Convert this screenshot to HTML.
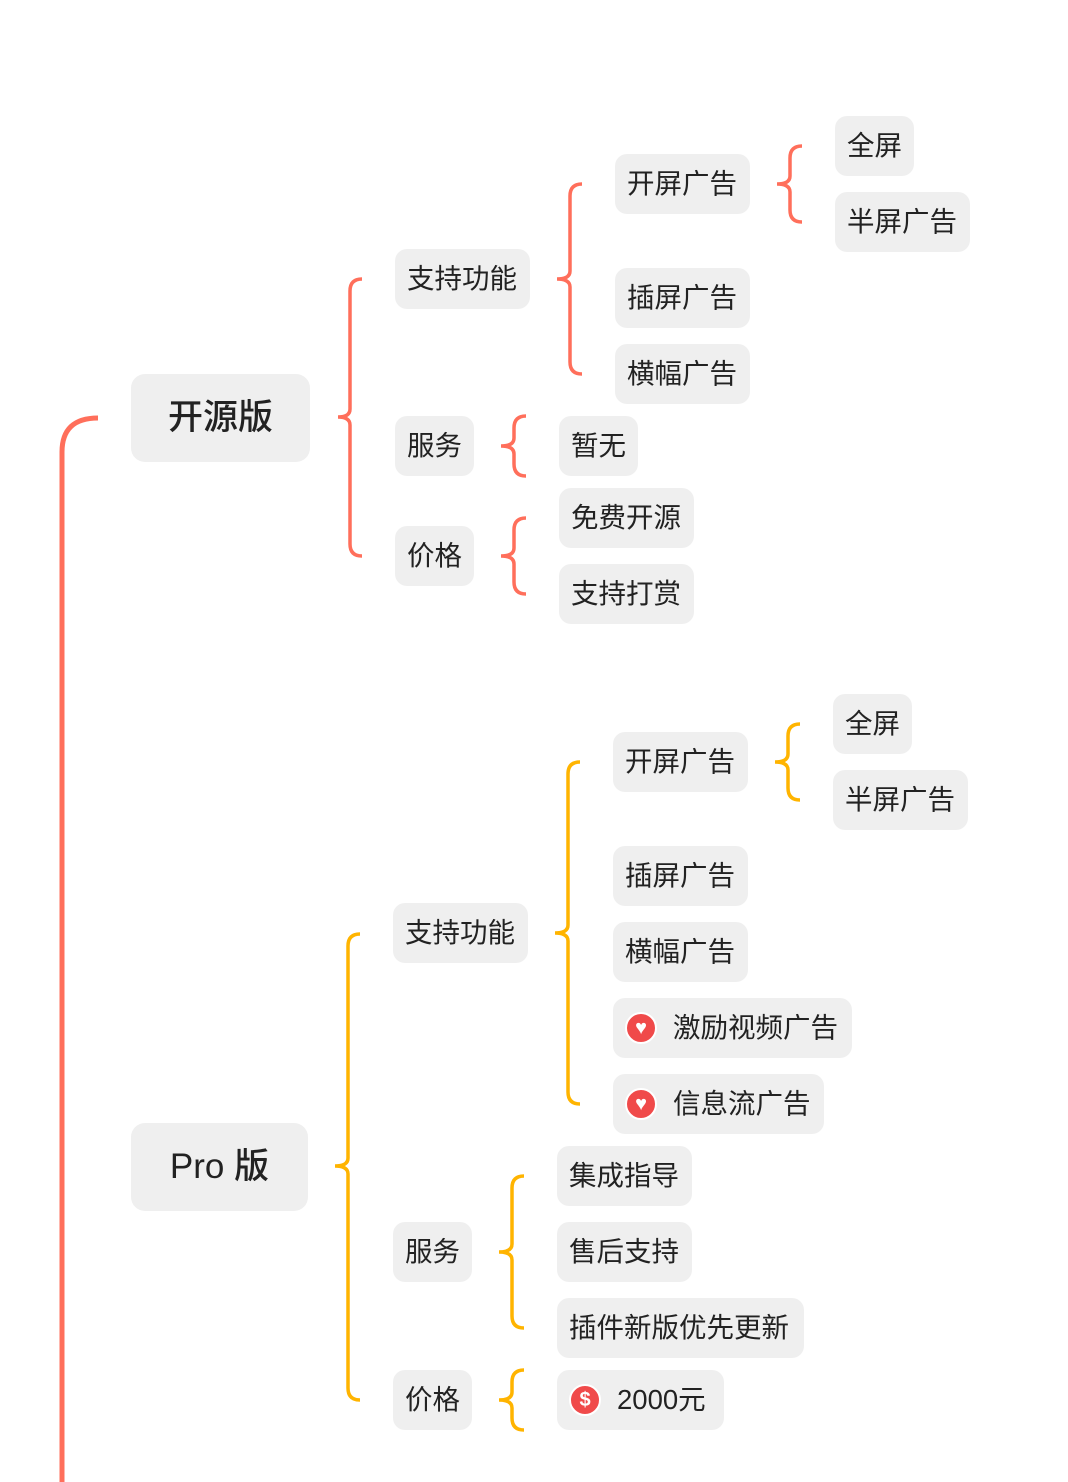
<!DOCTYPE html>
<html><head><meta charset="utf-8"><style>
body{margin:0;width:1068px;height:1482px;background:#fff;position:relative;overflow:hidden;font-family:"Liberation Sans","Noto Sans CJK SC",sans-serif;color:#222}
.n{position:absolute;background:#efefef;border-radius:12px;height:60px;line-height:60px;font-size:27.5px;box-sizing:border-box;padding-left:12px;white-space:nowrap}
.b{height:88px;line-height:88px;font-size:35px;border-radius:14px;text-align:center;padding:0;font-weight:500}
.ic{display:inline-block;width:28px;height:28px;border-radius:50%;background:#f04a4a;border:2px solid #fff;vertical-align:middle;margin:-4px 16px 0 0;position:relative;color:#fff;font-size:20px;line-height:28px;text-align:center;font-weight:bold}
svg{position:absolute;left:0;top:0}
</style></head><body>
<svg width="1068" height="1482" fill="none" stroke-width="3.5">
<path d="M98,418 Q62,418 62,452 L62,1482" stroke="#FF6F5B" stroke-width="5"/>
<g stroke="#FF6F5B">
<path d="M362,279 Q350,279 350,291 L350,409 Q350,417 338,417 Q350,417 350,425 L350,544 Q350,556 362,556"/>
<path d="M582,184 Q570,184 570,196 L570,271 Q570,279 557,279 Q570,279 570,287 L570,362 Q570,374 582,374"/>
<path d="M802,146 Q790,146 790,158 L790,176 Q790,184 777,184 Q790,184 790,192 L790,210 Q790,222 802,222"/>
<path d="M526,416 Q514,416 514,428 L514,438 Q514,446 501,446 Q514,446 514,454 L514,464 Q514,476 526,476"/>
<path d="M526,518 Q514,518 514,530 L514,548 Q514,556 501,556 Q514,556 514,564 L514,582 Q514,594 526,594"/>
</g>
<g stroke="#FFB400">
<path d="M360,934 Q348,934 348,946 L348,1158 Q348,1166 335,1166 Q348,1166 348,1174 L348,1388 Q348,1400 360,1400"/>
<path d="M580,762 Q568,762 568,774 L568,925 Q568,933 555,933 Q568,933 568,941 L568,1092 Q568,1104 580,1104"/>
<path d="M800,724 Q788,724 788,736 L788,754 Q788,762 775,762 Q788,762 788,770 L788,788 Q788,800 800,800"/>
<path d="M524,1176 Q512,1176 512,1188 L512,1244 Q512,1252 499,1252 Q512,1252 512,1260 L512,1316 Q512,1328 524,1328"/>
<path d="M524,1370 Q512,1370 512,1382 L512,1392 Q512,1400 499,1400 Q512,1400 512,1408 L512,1418 Q512,1430 524,1430"/>
</g>
</svg>
<div class="n b" style="left:131px;top:374px;width:179px">开源版</div>
<div class="n b" style="left:131px;top:1123px;width:177px">Pro 版</div>

<div class="n" style="left:395px;top:249px;width:135px">支持功能</div>
<div class="n" style="left:395px;top:416px;width:79px">服务</div>
<div class="n" style="left:395px;top:526px;width:79px">价格</div>
<div class="n" style="left:615px;top:154px;width:135px">开屏广告</div>
<div class="n" style="left:615px;top:268px;width:135px">插屏广告</div>
<div class="n" style="left:615px;top:344px;width:135px">横幅广告</div>
<div class="n" style="left:559px;top:416px;width:79px">暂无</div>
<div class="n" style="left:559px;top:488px;width:135px">免费开源</div>
<div class="n" style="left:559px;top:564px;width:135px">支持打赏</div>
<div class="n" style="left:835px;top:116px;width:79px">全屏</div>
<div class="n" style="left:835px;top:192px;width:135px">半屏广告</div>

<div class="n" style="left:393px;top:903px;width:135px">支持功能</div>
<div class="n" style="left:613px;top:732px;width:135px">开屏广告</div>
<div class="n" style="left:833px;top:694px;width:79px">全屏</div>
<div class="n" style="left:833px;top:770px;width:135px">半屏广告</div>
<div class="n" style="left:613px;top:846px;width:135px">插屏广告</div>
<div class="n" style="left:613px;top:922px;width:135px">横幅广告</div>
<div class="n" style="left:613px;top:998px;width:239px"><span class="ic">♥</span>激励视频广告</div>
<div class="n" style="left:613px;top:1074px;width:211px"><span class="ic">♥</span>信息流广告</div>
<div class="n" style="left:393px;top:1222px;width:79px">服务</div>
<div class="n" style="left:557px;top:1146px;width:135px">集成指导</div>
<div class="n" style="left:557px;top:1222px;width:135px">售后支持</div>
<div class="n" style="left:557px;top:1298px;width:247px">插件新版优先更新</div>
<div class="n" style="left:393px;top:1370px;width:79px">价格</div>
<div class="n" style="left:557px;top:1370px;width:167px"><span class="ic">$</span>2000元</div>
</body></html>
